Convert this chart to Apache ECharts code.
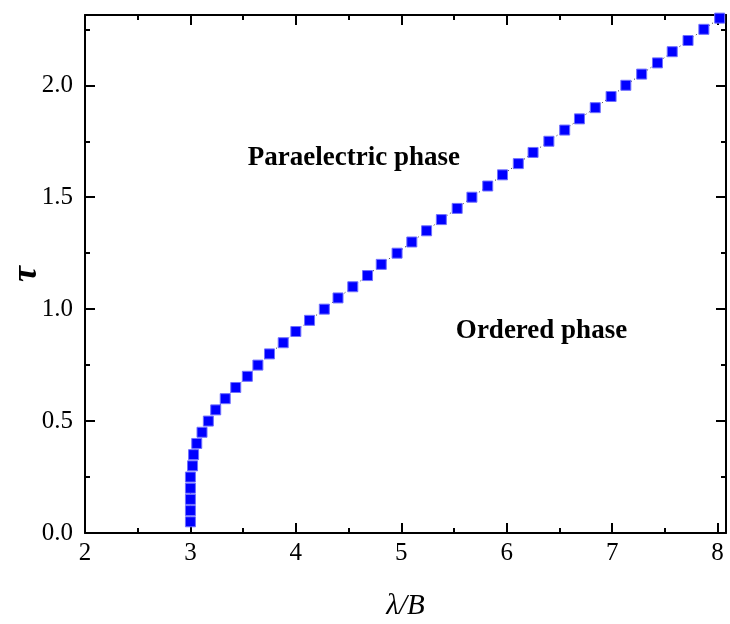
<!DOCTYPE html>
<html>
<head>
<meta charset="utf-8">
<script src="https://cdn.jsdelivr.net/npm/echarts@6/dist/echarts.min.js"></script>
<style>
html,body{margin:0;padding:0;background:#fff;}
#chart{width:730px;height:624px;}
</style>
</head>
<body>
<div id="chart"></div>
<script>
const lambdaB = [3.00,3.00,3.00,3.00,3.00,3.02,3.03,3.06,3.11,3.17,3.24,3.33,3.43,3.54,3.64,3.75,3.88,4.00,4.13,4.27,4.40,4.54,4.68,4.81,4.96,5.10,5.24,5.38,5.53,5.67,5.82,5.96,6.11,6.25,6.40,6.55,6.69,6.84,6.99,7.13,7.28,7.43,7.57,7.72,7.87,8.02];
const tau = [0.05,0.10,0.15,0.20,0.25,0.30,0.35,0.40,0.45,0.50,0.55,0.60,0.65,0.70,0.75,0.80,0.85,0.90,0.95,1.00,1.05,1.10,1.15,1.20,1.25,1.30,1.35,1.40,1.45,1.50,1.55,1.60,1.65,1.70,1.75,1.80,1.85,1.90,1.95,2.00,2.05,2.10,2.15,2.20,2.25,2.30];
const xMajor = [2,3,4,5,6,7,8];
const xMinor = [2.5,3.5,4.5,5.5,6.5,7.5];
const yMajor = [0,0.5,1.0,1.5,2.0];
const yMinor = [0.25,0.75,1.25,1.75,2.25];
const annotations = [
  {text:'Paraelectric phase', x:4.55, y:1.675},
  {text:'Ordered phase', x:6.33, y:0.90}
];

const FONT = "'Liberation Serif','DejaVu Serif',serif";
const black = '#000';

function axisBase(kind, pos, ticks, len, showLine, labels) {
  const isX = kind === 'x';
  const a = {
    type: 'value',
    position: pos,
    min: isX ? 2 : 0,
    max: isX ? 8.08 : 2.314,
    axisLine: {show: showLine, onZero: false, lineStyle: {color: black, width: 2}},
    axisTick: {show: true, inside: true, length: len, customValues: ticks, lineStyle: {color: black, width: 2}},
    axisLabel: {show: false},
    splitLine: {show: false},
    minorTick: {show: false}
  };
  if (labels) {
    a.axisLabel = {
      show: true,
      customValues: labels,
      fontFamily: FONT,
      fontSize: 25,
      color: black,
      margin: isX ? 8 : 12,
      formatter: isX ? (v => String(v)) : (v => v.toFixed(1))
    };
  }
  return a;
}

const xAxes = [
  Object.assign(axisBase('x','bottom',xMajor,10,true,xMajor), {
    name: 'λ/B', nameLocation: 'middle', nameGap: 59, nameMoveOverlap: false,
    nameTextStyle: {fontFamily: FONT, fontStyle: 'italic', fontSize: 29, color: black}
  }),
  axisBase('x','top',xMajor,10,true,null),
  axisBase('x','bottom',xMinor,5,false,null),
  axisBase('x','top',xMinor,5,false,null)
];
const yAxes = [
  Object.assign(axisBase('y','left',yMajor,10,true,yMajor), {
    name: 'τ', nameLocation: 'middle', nameGap: 40, nameRotate: 90, nameMoveOverlap: false,
    nameTextStyle: {fontFamily: FONT, fontStyle: 'italic', fontWeight: 'bold', fontSize: 36, color: black}
  }),
  axisBase('y','right',yMajor,10,true,null),
  axisBase('y','left',yMinor,5,false,null),
  axisBase('y','right',yMinor,5,false,null)
];

const chart = echarts.init(document.getElementById('chart'), null, {renderer: 'canvas'});
chart.setOption({
  animation: false,
  backgroundColor: '#fff',
  grid: {left: 85, right: 4, top: 15, bottom: 91, containLabel: false, outerBoundsMode: 'none'},
  xAxis: xAxes,
  yAxis: yAxes,
  series: [
    {
      type: 'line',
      data: lambdaB.map((x, i) => [x, tau[i]]),
      symbol: 'rect',
      symbolSize: 10,
      itemStyle: {color: '#0000ff', borderColor: '#7070ff', borderWidth: 1},
      lineStyle: {color: '#222', width: 1, type: [1, 3]},
      z: 3
    },
    {
      type: 'scatter',
      data: annotations.map(a => ({value: [a.x, a.y], name: a.text})),
      symbolSize: 0,
      silent: true,
      itemStyle: {color: black, opacity: 1},
      label: {
        show: true,
        position: [0, 0],
        align: 'center',
        verticalAlign: 'middle',
        formatter: p => p.name,
        fontFamily: FONT,
        fontWeight: 'bold',
        fontSize: 27,
        color: black,
        opacity: 1,
        textBorderWidth: 0
      },
      z: 4
    }
  ]
});
</script>
</body>
</html>
